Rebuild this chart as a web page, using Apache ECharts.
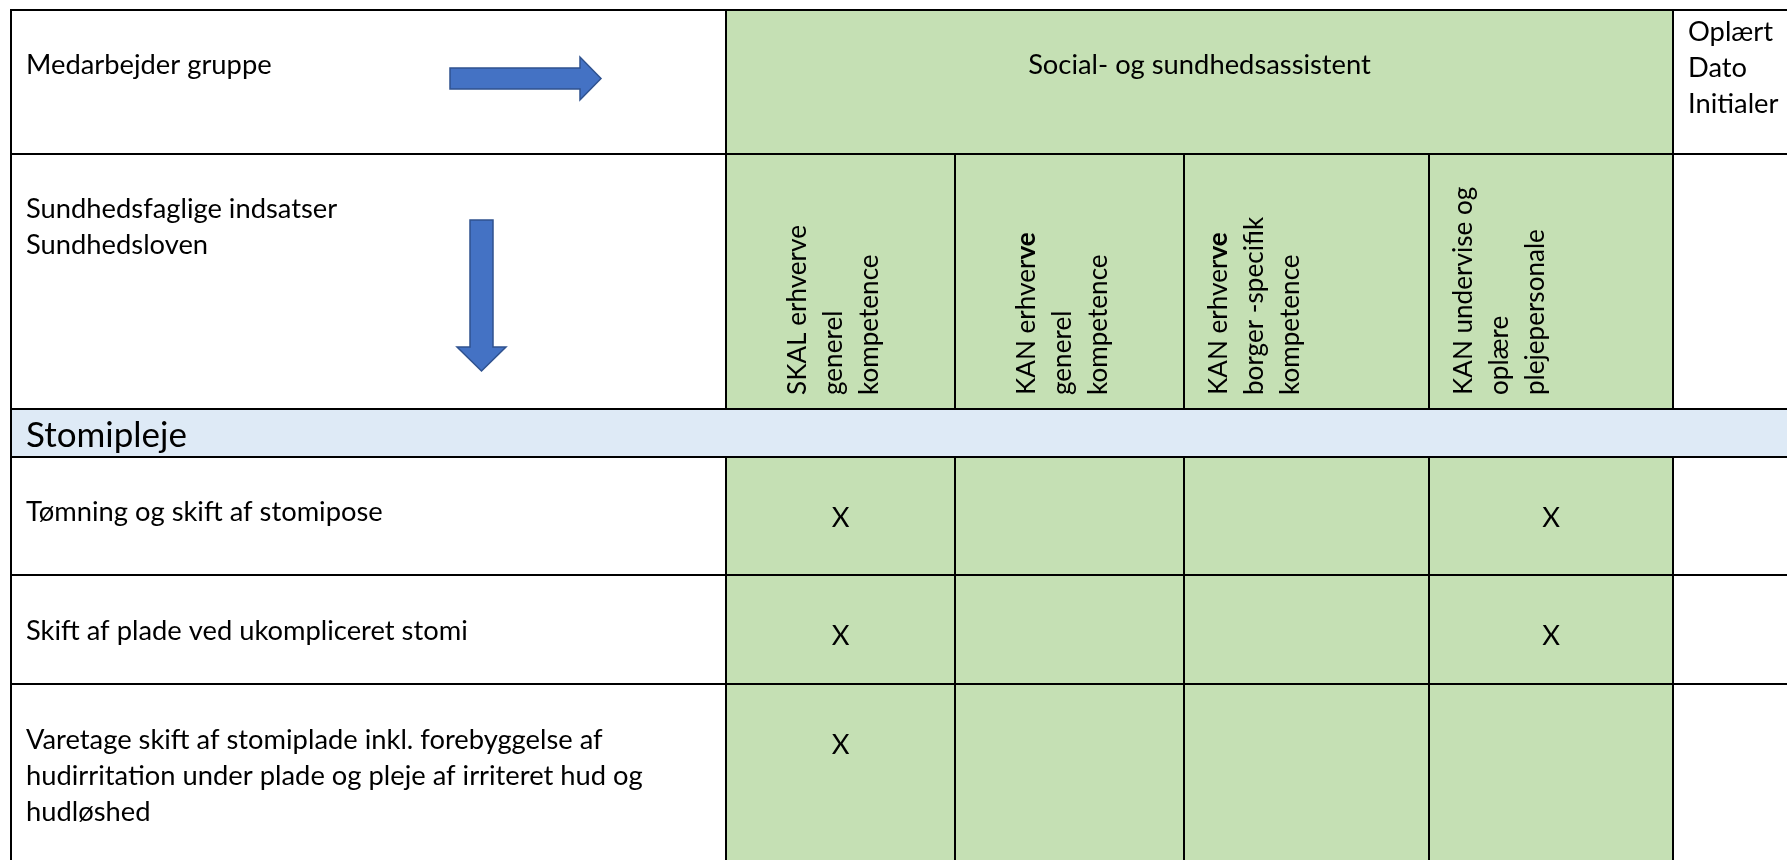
<!DOCTYPE html>
<html>
<head>
<meta charset="utf-8">
<script src="https://cdn.jsdelivr.net/npm/echarts@6/dist/echarts.min.js"></script>
<style>
html, body { margin: 0; padding: 0; background: #ffffff; }
#c { width: 1787px; height: 860px; }
</style>
</head>
<body>
<div id="c"></div>
<script>
// ---------------- data ----------------
const groupLabel = 'Medarbejder gruppe';
const staffGroup = 'Social- og sundhedsassistent';
const signoffLines = ['Oplært', 'Dato', 'Initialer'];
const interventionLines = ['Sundhedsfaglige indsatser', 'Sundhedsloven'];
const competenceHeaders = [
  [['SKAL erhverve'], ['generel'], ['kompetence']],
  [['KAN erhver', 've'], ['generel'], ['kompetence']],
  [['KAN erhver', 've'], ['borger -specifik'], ['kompetence']],
  [['KAN undervise og'], ['oplære'], ['plejepersonale']]
];
const sectionTitle = 'Stomipleje';
const tasks = [
  ['Tømning og skift af stomipose'],
  ['Skift af plade ved ukompliceret stomi'],
  ['Varetage skift af stomiplade inkl. forebyggelse af', 'hudirritation under plade og pleje af irriteret hud og', 'hudløshed']
];
const marks = [
  [1, 0, 0, 1],
  [1, 0, 0, 1],
  [1, 0, 0, 0]
];
const markSymbol = 'X';

// ---------------- layout / style ----------------
const W = 1787, H = 860;
const COL = [11, 726, 955, 1184, 1429, 1673, 1800];
const ROW = [10, 154, 409, 457, 575, 684, 900];
const LH = 36;
const FONT = 'Lato, "Liberation Sans", sans-serif';
const GREEN = '#C5E0B4', BAND = '#DEEAF6', LINE = '#000000', INK = '#000000';
const ARROW_FILL = '#4472C4', ARROW_STROKE = '#2F528F';
const TASK_BASE = [521, 640, 749];
const MARK_BASE = [527, 645, 754];
const HEAD_BASE_X = [806, 1035, 1227, 1472];
const HEAD_START_Y = 395;

const cv = document.createElement('canvas').getContext('2d');
function textW(t, size, weight) {
  cv.font = (weight || 'normal') + ' ' + size + 'px ' + FONT;
  return cv.measureText(t).width;
}
function baseOff(size) {
  cv.font = size + 'px ' + FONT;
  cv.textBaseline = 'alphabetic';
  const a = cv.measureText('H').actualBoundingBoxAscent;
  cv.textBaseline = 'middle';
  const b = cv.measureText('H').actualBoundingBoxAscent;
  cv.textBaseline = 'alphabetic';
  return a - b;
}
const FS = 100 * 357 / textW(tasks[0][0], 100);
const FS_BIG = 100 * 161 / textW(sectionTitle, 100);
const FS_HEAD = 100 * 170 / textW(competenceHeaders[0][0][0], 100);
const D = baseOff(FS);
const D_BIG = baseOff(FS_BIG);
const D_HEAD = baseOff(FS_HEAD);

function frameItem(params, api) {
  const c = [];
  const pt = (x, y) => api.coord([x, y]);
  const rect = (x0, y0, x1, y1, fill) => {
    const a = pt(x0, y0), b = pt(x1, y1);
    c.push({ type: 'rect', shape: { x: a[0], y: a[1], width: b[0] - a[0], height: b[1] - a[1] }, style: { fill: fill } });
  };
  const line = (x0, y0, x1, y1) => {
    const a = pt(x0, y0), b = pt(x1, y1);
    c.push({ type: 'line', shape: { x1: a[0], y1: a[1], x2: b[0], y2: b[1] }, style: { stroke: LINE, lineWidth: 2 } });
  };
  const txt = (x, base, lines, opt) => {
    opt = opt || {};
    const fs = opt.fs || FS, lh = opt.lh || LH, d = opt.d != null ? opt.d : D;
    const p = pt(x, base);
    c.push({ type: 'text', x: p[0], y: p[1] - lh / 2 - d,
      style: { text: lines.join('\n'), fontSize: fs, fontFamily: FONT, fill: INK,
        align: opt.align || 'left', verticalAlign: 'top', lineHeight: lh } });
  };
  const poly = (pts) => {
    c.push({ type: 'polygon', shape: { points: pts.map(q => pt(q[0], q[1])) },
      style: { fill: ARROW_FILL, stroke: ARROW_STROKE, lineWidth: 1.5 } });
  };

  // fills
  rect(COL[1], ROW[0], COL[5], ROW[2], GREEN);
  rect(COL[0], ROW[2], W + 20, ROW[3], BAND);
  rect(COL[1], ROW[3], COL[5], ROW[6], GREEN);

  // horizontal rules
  for (let i = 0; i < 6; i++) line(COL[0] - 1, ROW[i], W + 20, ROW[i]);
  // vertical rules
  line(COL[0], ROW[0] - 1, COL[0], ROW[6]);
  line(COL[1], ROW[0], COL[1], ROW[2]);
  line(COL[5], ROW[0], COL[5], ROW[2]);
  for (let k = 2; k <= 4; k++) line(COL[k], ROW[1], COL[k], ROW[2]);
  for (let k = 1; k <= 5; k++) line(COL[k], ROW[3], COL[k], ROW[6]);

  // header texts
  txt(26, 74, [groupLabel]);
  txt((COL[1] + COL[5]) / 2, 74, [staffGroup], { align: 'center' });
  txt(1688, 41, signoffLines);
  txt(26, 218, interventionLines);
  txt(26, 447, [sectionTitle], { fs: FS_BIG, lh: 45, d: D_BIG });
  tasks.forEach((t, i) => txt(26, TASK_BASE[i], t));

  // rotated competence headers
  const rich = {
    n: { fontSize: FS_HEAD, fontFamily: FONT, fontWeight: 'normal', fill: INK, lineHeight: LH },
    b: { fontSize: FS_HEAD, fontFamily: FONT, fontWeight: 'bold', fill: INK, lineHeight: LH }
  };
  competenceHeaders.forEach((lines, k) => {
    const str = lines.map(parts => parts.map((s, j) => '{' + (j === 0 ? 'n' : 'b') + '|' + s + '}').join('')).join('\n');
    const p = pt(HEAD_BASE_X[k], HEAD_START_Y);
    c.push({ type: 'text', x: p[0] - LH / 2 - D_HEAD, y: p[1], rotation: Math.PI / 2,
      style: { text: str, rich: rich, fontSize: FS_HEAD, fontFamily: FONT, fill: INK,
        align: 'left', verticalAlign: 'top', lineHeight: LH } });
  });

  // arrows
  poly([[450, 68], [580, 68], [580, 57], [601, 78.5], [580, 100], [580, 89], [450, 89]]);
  poly([[470, 220], [493, 220], [493, 347], [506, 347], [481.5, 371], [457, 347], [470, 347]]);

  return { type: 'group', children: c };
}

const markData = [];
marks.forEach((row, r) => row.forEach((v, k) => { if (v) markData.push([k, r]); }));

function markItem(params, api) {
  const k = api.value(0), r = api.value(1);
  const cx = (COL[k + 1] + COL[k + 2]) / 2;
  const p = api.coord([cx, MARK_BASE[r]]);
  return { type: 'text', x: p[0], y: p[1] - LH / 2 - D,
    style: { text: markSymbol, fontSize: FS, fontFamily: FONT, fill: INK,
      align: 'center', verticalAlign: 'top', lineHeight: LH } };
}

const chart = echarts.init(document.getElementById('c'), null, { renderer: 'canvas', width: W, height: H });
chart.setOption({
  animation: false,
  backgroundColor: '#ffffff',
  grid: { left: 0, right: 0, top: 0, bottom: 0 },
  xAxis: { type: 'value', min: 0, max: W, show: false },
  yAxis: { type: 'value', min: 0, max: H, inverse: true, show: false },
  series: [
    { type: 'custom', coordinateSystem: 'cartesian2d', clip: false, silent: true,
      renderItem: frameItem, data: [[0, 0]] },
    { type: 'custom', coordinateSystem: 'cartesian2d', clip: false, silent: true,
      renderItem: markItem, data: markData }
  ]
});
</script>
</body>
</html>
